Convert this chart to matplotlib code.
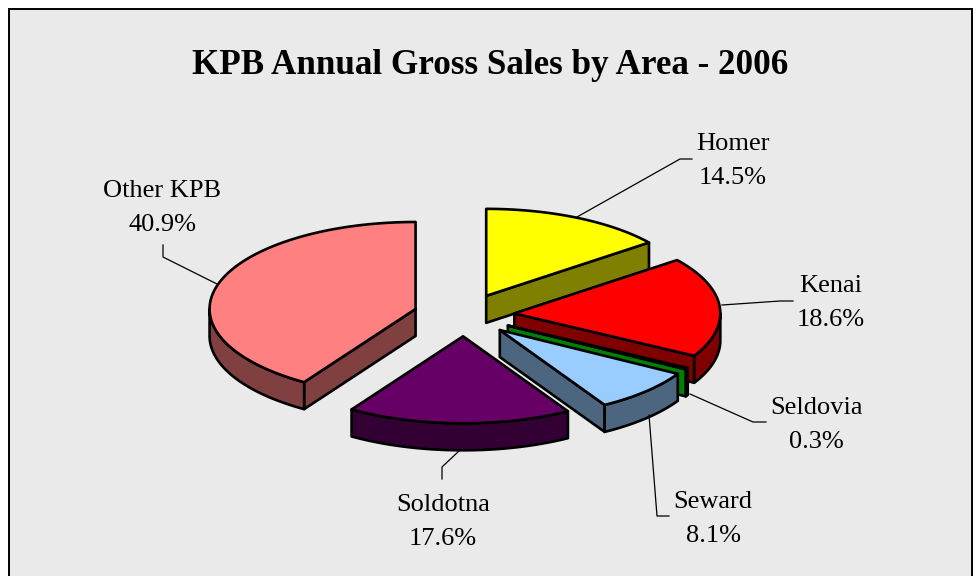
import matplotlib
matplotlib.use('Agg')
import matplotlib.pyplot as plt
import numpy as np

plt.rcParams['font.family'] = ['Liberation Serif', 'DejaVu Serif']

# datos, en orden horario desde las 12
areas = ['Homer', 'Kenai', 'Seldovia', 'Seward', 'Soldotna', 'Other KPB']
shares = [14.5, 18.6, 0.3, 8.1, 17.6, 40.9]
top_colors = ['#FFFF00', '#FF0000', '#008000', '#99CCFF', '#660066', '#FF8080']
side_colors = ['#808000', '#800000', '#008000', '#4D6680', '#330033', '#804040']

# geometria del pastel en pixeles
CX, CY = 464, 315
RX, RY = 206, 87
DEPTH = 27
EXPLODE = 0.245

# posicion del texto y linea guia de cada etiqueta
label_pos = [(733, 161), (831, 303), (816, 425), (713, 519), (443, 522), (162, 208)]
guides = [
    [(577, 217), (680, 159), (692, 159)],
    [(722, 305), (780, 301), (793, 301)],
    [(690, 394), (753, 422), (766, 422)],
    [(649, 415), (657, 516), (669, 516)],
    [(459, 451), (442, 467), (442, 479)],
    [(217, 284), (163, 257), (163, 245)],
]


def ellipse_pt(ox, oy, ang):
    return ox + RX * np.sin(ang), oy - RY * np.cos(ang)


fig = plt.figure(figsize=(9.8, 5.76), dpi=100)
ax = fig.add_axes([0, 0, 1, 1])
ax.set_xlim(0, 980)
ax.set_ylim(576, 0)
ax.axis('off')

ax.add_patch(plt.Rectangle((9, 9), 963, 580, facecolor='#EAEAEA', edgecolor='black',
                           linewidth=1.4, zorder=0))

edges = np.cumsum([0] + shares) / sum(shares) * 2 * np.pi

# orden de dibujo: de atras hacia adelante
order = [0, 5, 1, 2, 3, 4]
for z, i in enumerate(order):
    a0, a1 = edges[i], edges[i + 1]
    mid = (a0 + a1) / 2
    ox = CX + EXPLODE * RX * np.sin(mid)
    oy = CY - EXPLODE * RY * np.cos(mid)
    style = dict(edgecolor='black', linewidth=1.9, joinstyle='round', zorder=2 + z)

    # cara de corte visible: la final salvo en Other KPB, donde es la inicial
    if i != 4:
        ex, ey = ellipse_pt(ox, oy, a0 if i == 5 else a1)
        face = [(ox, oy), (ex, ey), (ex, ey + DEPTH), (ox, oy + DEPTH)]
        ax.add_patch(plt.Polygon(face, facecolor=side_colors[i], **style))

    # borde exterior, solo la mitad de abajo de la elipse
    lo, hi = max(a0, np.pi / 2), min(a1, 3 * np.pi / 2)
    if hi > lo:
        t = np.linspace(lo, hi, 80)
        xs, ys = ellipse_pt(ox, oy, t)
        rim = list(zip(xs, ys)) + list(zip(xs[::-1], ys[::-1] + DEPTH))
        ax.add_patch(plt.Polygon(rim, facecolor=side_colors[i], **style))

    # cara superior
    t = np.linspace(a0, a1, 160)
    xs, ys = ellipse_pt(ox, oy, t)
    top = [(ox, oy)] + list(zip(xs, ys))
    ax.add_patch(plt.Polygon(top, facecolor=top_colors[i], **style))

# lineas guia y etiquetas
for i, name in enumerate(areas):
    xs, ys = zip(*guides[i])
    ax.plot(xs, ys, color='black', linewidth=0.9, zorder=20)
    ax.text(label_pos[i][0], label_pos[i][1], f'{name}\n{shares[i]:.1f}%', ha='center', va='center',
            fontsize=19, linespacing=1.72, color='black', zorder=21)

ax.text(490, 65, 'KPB Annual Gross Sales by Area - 2006', ha='center', va='center',
        fontsize=25.2, fontweight='bold', color='black')

fig.savefig('out.png', dpi=100)
